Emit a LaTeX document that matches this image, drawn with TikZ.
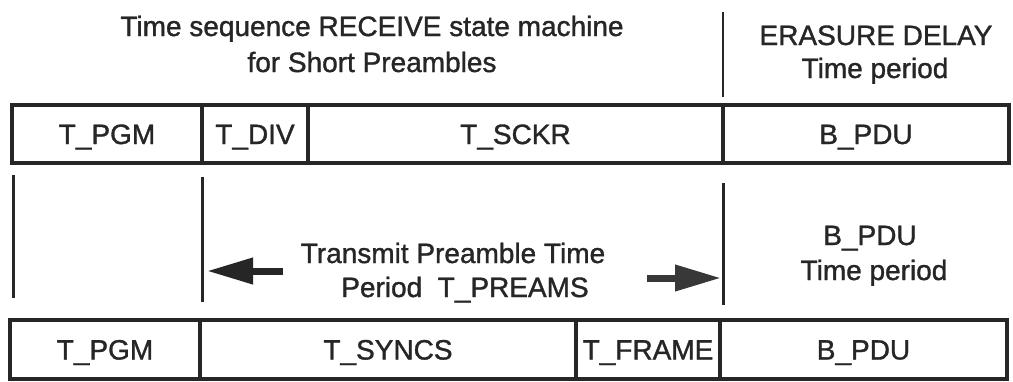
\documentclass[tikz,border=0pt]{standalone}
\usepackage{fontspec}
\setmainfont[FakeBold=1.2]{Liberation Sans}
\usetikzlibrary{arrows.meta}
\definecolor{ink}{HTML}{262626}
\definecolor{arrowgray}{HTML}{383838}
\begin{document}
\begin{tikzpicture}[x=1pt,y=-1pt,
  font=\fontsize{28}{34}\selectfont,
  txt/.style={anchor=base, inner sep=0pt, text=ink},
  cell/.style={draw=ink, line width=4pt, rectangle, inner sep=0pt,
    minimum height=#1, text height=20pt, text depth=0pt, text=ink},
  vline/.style={draw=ink, line width=3pt},
  bigarrow/.style={draw=#1, line width=7pt, -{Triangle[length=46pt,width=25pt]}, fill=#1}
]
\useasboundingbox (0,0) rectangle (1013,381);
\fill[white] (0,0) rectangle (1013,381);

% headings
\node[txt] (title1) at (372,36) {Time sequence RECEIVE state machine};
\node[txt] (title2) at (372,72) {for Short Preambles};
\node[txt] (eras1) at (876,45) {ERASURE DELAY};
\node[txt] (eras2) at (875,78) {Time period};
\coordinate (topA) at (723,12);
\coordinate (topB) at (723,97);
\draw[draw=ink, line width=2.5pt] (topA) -- (topB);

% top row
\node[cell=58pt, minimum width=190pt] (tpgm)  at (107,134) {T\_PGM};
\node[cell=58pt, minimum width=106pt] (tdiv)  at (255,134) {T\_DIV};
\node[cell=58pt, minimum width=415pt] (tsckr) at (515.5,134) {T\_SCKR};
\node[cell=58pt, minimum width=286pt] (bpdua) at (866,134) {B\_PDU};

% middle vertical lines
\coordinate (v1a) at (13,175);  \coordinate (v1b) at (13,298);
\coordinate (v2a) at (202,177); \coordinate (v2b) at (202,302);
\coordinate (v3a) at (723,183); \coordinate (v3b) at (723,305);
\draw[vline] (v1a) -- (v1b);
\draw[vline] (v2a) -- (v2b);
\draw[vline] (v3a) -- (v3b);

% middle texts
\node[txt] (tr1) at (453,263) {Transmit Preamble Time};
\node[txt] (tr2) at (465,297) {Period\ \ T\_PREAMS};
\node[txt] (bp1) at (870,245) {B\_PDU};
\node[txt] (bp2) at (874,280) {Time period};

% arrows
\coordinate (la) at (283,271);
\coordinate (lt) at (207,271);
\coordinate (ra) at (647,278);
\coordinate (rt) at (721,278);
\draw[bigarrow=ink] (la) -- (lt);
\draw[bigarrow=arrowgray] (ra) -- (rt);

% bottom row
\node[cell=59pt, minimum width=190pt] (bpgm)   at (105,349.5) {T\_PGM};
\node[cell=59pt, minimum width=376pt] (syncs)  at (388,349.5) {T\_SYNCS};
\node[cell=59pt, minimum width=144pt] (frame)  at (648,349.5) {T\_FRAME};
\node[cell=59pt, minimum width=287pt] (bpdub)  at (863.5,349.5) {B\_PDU};
\end{tikzpicture}
\end{document}
